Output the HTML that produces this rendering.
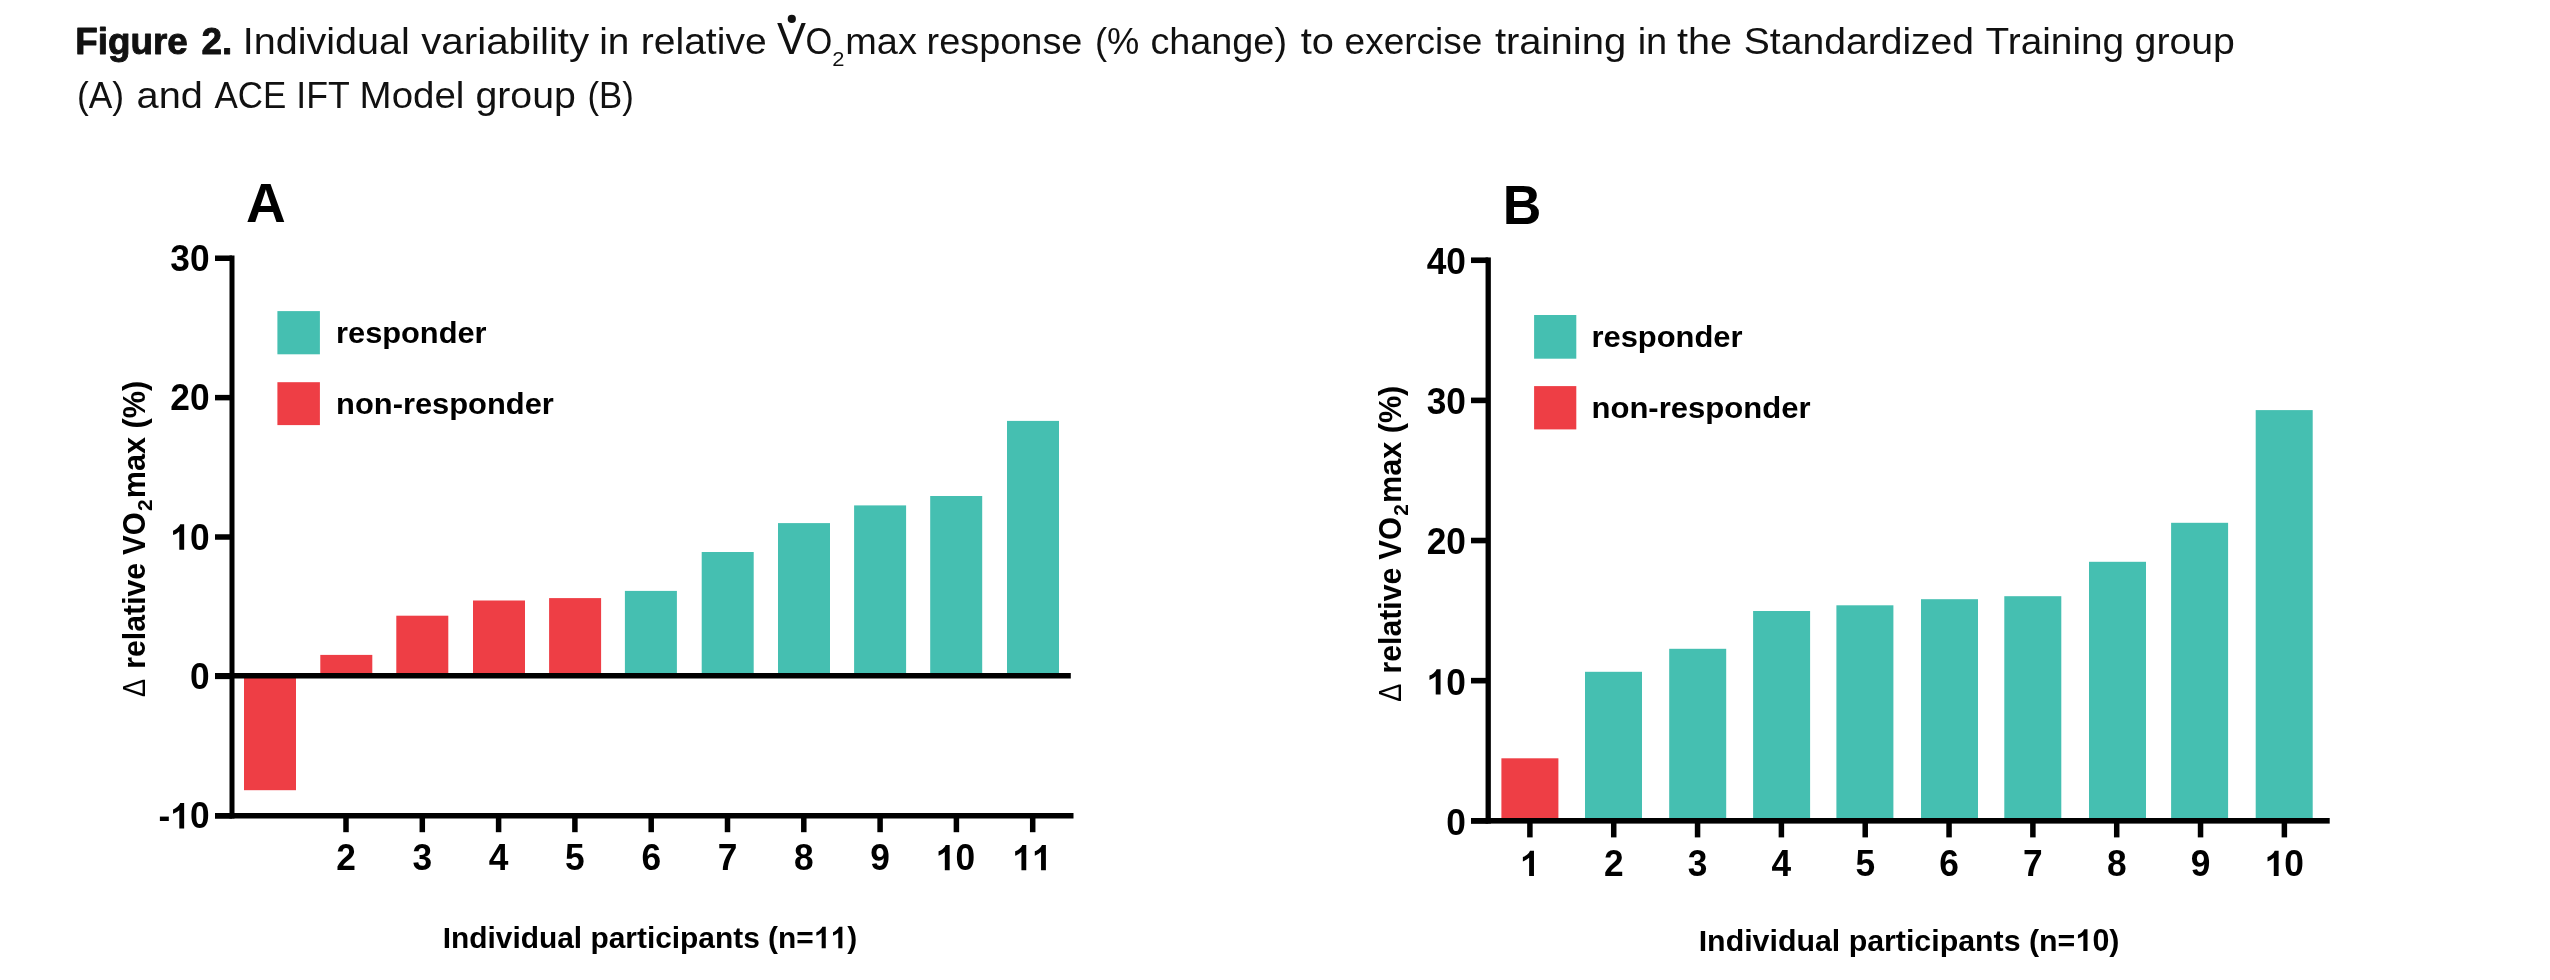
<!DOCTYPE html>
<html><head><meta charset="utf-8"><title>Figure 2</title>
<style>
html,body{margin:0;padding:0;background:#fff;}
body{width:2550px;height:980px;overflow:hidden;font-family:"Liberation Sans",sans-serif;}
svg{display:block;font-family:"Liberation Sans",sans-serif;will-change:transform;}
</style></head><body>
<svg width="2550" height="980" viewBox="0 0 2550 980">
<rect width="2550" height="980" fill="#fff"/>
<text transform="translate(75.34,53.90) scale(0.9818,1.0000)" font-size="37.5" font-weight="bold" fill="#111" stroke="#111" stroke-width="0.9" stroke-linejoin="round">Figure</text>
<text transform="translate(201.42,53.90) scale(0.9836,1.0000)" font-size="37.5" font-weight="bold" fill="#111" stroke="#111" stroke-width="0.9" stroke-linejoin="round">2.</text>
<text transform="translate(242.74,53.90) scale(1.0541,1.0000)" font-size="37.5" font-weight="normal" fill="#111">Individual</text>
<text transform="translate(421.20,53.90) scale(1.0751,1.0000)" font-size="37.5" font-weight="normal" fill="#111">variability</text>
<text transform="translate(599.23,53.90) scale(1.0343,1.0000)" font-size="37.5" font-weight="normal" fill="#111">in</text>
<text transform="translate(640.72,53.90) scale(1.0421,1.0000)" font-size="37.5" font-weight="normal" fill="#111">relative</text>
<text transform="translate(845.28,53.90) scale(1.0102,1.0000)" font-size="37.5" font-weight="normal" fill="#111">max</text>
<text transform="translate(926.58,53.90) scale(1.0105,1.0000)" font-size="37.5" font-weight="normal" fill="#111">response</text>
<text transform="translate(1094.97,53.90) scale(0.9673,1.0000)" font-size="37.5" font-weight="normal" fill="#111">(%</text>
<text transform="translate(1150.39,53.90) scale(1.0081,1.0000)" font-size="37.5" font-weight="normal" fill="#111">change)</text>
<text transform="translate(1300.70,53.90) scale(1.0618,1.0000)" font-size="37.5" font-weight="normal" fill="#111">to</text>
<text transform="translate(1344.61,53.90) scale(0.9871,1.0000)" font-size="37.5" font-weight="normal" fill="#111">exercise</text>
<text transform="translate(1494.90,53.90) scale(1.0682,1.0000)" font-size="37.5" font-weight="normal" fill="#111">training</text>
<text transform="translate(1637.67,53.90) scale(1.0146,1.0000)" font-size="37.5" font-weight="normal" fill="#111">in</text>
<text transform="translate(1676.90,53.90) scale(1.0551,1.0000)" font-size="37.5" font-weight="normal" fill="#111">the</text>
<text transform="translate(1743.76,53.90) scale(1.0425,1.0000)" font-size="37.5" font-weight="normal" fill="#111">Standardized</text>
<text transform="translate(1985.50,53.90) scale(1.0345,1.0000)" font-size="37.5" font-weight="normal" fill="#111">Training</text>
<text transform="translate(2134.55,53.90) scale(1.0473,1.0000)" font-size="37.5" font-weight="normal" fill="#111">group</text>
<text transform="translate(76.91,107.90) scale(0.9441,1.0000)" font-size="37.5" font-weight="normal" fill="#111">(A)</text>
<text transform="translate(136.54,107.90) scale(1.0601,1.0000)" font-size="37.5" font-weight="normal" fill="#111">and</text>
<text transform="translate(214.50,107.90) scale(0.9317,1.0000)" font-size="37.5" font-weight="normal" fill="#111">ACE</text>
<text transform="translate(296.35,107.90) scale(0.9508,1.0000)" font-size="37.5" font-weight="normal" fill="#111">IFT</text>
<text transform="translate(359.62,107.90) scale(1.0258,1.0000)" font-size="37.5" font-weight="normal" fill="#111">Model</text>
<text transform="translate(475.45,107.90) scale(1.0473,1.0000)" font-size="37.5" font-weight="normal" fill="#111">group</text>
<text transform="translate(587.55,107.90) scale(0.9269,1.0000)" font-size="37.5" font-weight="normal" fill="#111">(B)</text>
<text transform="translate(777.00,53.90) scale(0.9966,1.0000)" font-size="43.6" font-weight="normal" fill="#111">V</text>
<text transform="translate(805.48,53.90) scale(0.9185,1.0000)" font-size="37.5" font-weight="normal" fill="#111">O</text>
<text transform="translate(832.33,66.10) scale(1.0700,1.0000)" font-size="20.5" font-weight="normal" fill="#111">2</text>
<circle cx="791.8" cy="18.9" r="4.1" fill="#111"/>
<rect x="244.00" y="675.75" width="52" height="114.45" fill="#EE3E45"/>
<rect x="320.30" y="654.90" width="52" height="20.85" fill="#EE3E45"/>
<rect x="396.30" y="615.70" width="52" height="60.05" fill="#EE3E45"/>
<rect x="473.00" y="600.50" width="52" height="75.25" fill="#EE3E45"/>
<rect x="549.10" y="598.10" width="52" height="77.65" fill="#EE3E45"/>
<rect x="624.90" y="590.90" width="52" height="84.85" fill="#45BFB1"/>
<rect x="701.70" y="552.00" width="52" height="123.75" fill="#45BFB1"/>
<rect x="778.00" y="523.10" width="52" height="152.65" fill="#45BFB1"/>
<rect x="854.10" y="505.40" width="52" height="170.35" fill="#45BFB1"/>
<rect x="930.20" y="496.00" width="52" height="179.75" fill="#45BFB1"/>
<rect x="1007.00" y="420.90" width="52" height="254.85" fill="#45BFB1"/>
<rect x="229.50" y="255.50" width="5.0" height="563.00" fill="#000"/>
<rect x="215.0" y="255.50" width="17.00" height="5.5" fill="#000"/>
<g transform="translate(170.27,270.89) scale(1.0,1.0)" fill="#000"><text transform="translate(0.000,0) scale(1,1.04)" font-size="35.3" font-weight="bold">3</text><text transform="translate(19.630,0) scale(1,1.04)" font-size="35.3" font-weight="bold">0</text></g>
<rect x="215.0" y="394.88" width="17.00" height="5.5" fill="#000"/>
<g transform="translate(170.27,410.26) scale(1.0,1.0)" fill="#000"><text transform="translate(0.000,0) scale(1,1.04)" font-size="35.3" font-weight="bold">2</text><text transform="translate(19.630,0) scale(1,1.04)" font-size="35.3" font-weight="bold">0</text></g>
<rect x="215.0" y="534.25" width="17.00" height="5.5" fill="#000"/>
<g transform="translate(170.27,549.64) scale(1.0,1.0)" fill="#000"><path transform="translate(0.000,0) scale(0.017236,-0.017236)" d="M806 0H525V1059Q371 915 162 846V1101Q272 1137 401 1237.5T578 1472H806Z"/><text transform="translate(19.632,0) scale(1,1.04)" font-size="35.3" font-weight="bold">0</text></g>
<rect x="215.0" y="673.62" width="17.00" height="5.5" fill="#000"/>
<g transform="translate(189.90,689.01) scale(1.0,1.0)" fill="#000"><text transform="translate(0.000,0) scale(1,1.04)" font-size="35.3" font-weight="bold">0</text></g>
<rect x="215.0" y="813.00" width="17.00" height="5.5" fill="#000"/>
<g transform="translate(158.51,828.39) scale(1.0,1.0)" fill="#000"><text transform="translate(0.000,0) scale(1,1.04)" font-size="35.3" font-weight="bold">-</text><path transform="translate(11.754,0) scale(0.017236,-0.017236)" d="M806 0H525V1059Q371 915 162 846V1101Q272 1137 401 1237.5T578 1472H806Z"/><text transform="translate(31.386,0) scale(1,1.04)" font-size="35.3" font-weight="bold">0</text></g>
<rect x="215.0" y="673.00" width="855.80" height="5.5" fill="#000"/>
<rect x="215.0" y="813.00" width="858.50" height="5.5" fill="#000"/>
<rect x="343.25" y="815.75" width="5.5" height="16.45" fill="#000"/>
<g transform="translate(336.18,870.30) scale(1.0,1.0)" fill="#000"><text transform="translate(0.000,0) scale(1,1.04)" font-size="35.3" font-weight="bold">2</text></g>
<rect x="419.55" y="815.75" width="5.5" height="16.45" fill="#000"/>
<g transform="translate(412.48,870.30) scale(1.0,1.0)" fill="#000"><text transform="translate(0.000,0) scale(1,1.04)" font-size="35.3" font-weight="bold">3</text></g>
<rect x="495.85" y="815.75" width="5.5" height="16.45" fill="#000"/>
<g transform="translate(488.78,870.30) scale(1.0,1.0)" fill="#000"><text transform="translate(0.000,0) scale(1,1.04)" font-size="35.3" font-weight="bold">4</text></g>
<rect x="572.15" y="815.75" width="5.5" height="16.45" fill="#000"/>
<g transform="translate(565.08,870.30) scale(1.0,1.0)" fill="#000"><text transform="translate(0.000,0) scale(1,1.04)" font-size="35.3" font-weight="bold">5</text></g>
<rect x="648.45" y="815.75" width="5.5" height="16.45" fill="#000"/>
<g transform="translate(641.38,870.30) scale(1.0,1.0)" fill="#000"><text transform="translate(0.000,0) scale(1,1.04)" font-size="35.3" font-weight="bold">6</text></g>
<rect x="724.75" y="815.75" width="5.5" height="16.45" fill="#000"/>
<g transform="translate(717.68,870.30) scale(1.0,1.0)" fill="#000"><text transform="translate(0.000,0) scale(1,1.04)" font-size="35.3" font-weight="bold">7</text></g>
<rect x="801.05" y="815.75" width="5.5" height="16.45" fill="#000"/>
<g transform="translate(793.98,870.30) scale(1.0,1.0)" fill="#000"><text transform="translate(0.000,0) scale(1,1.04)" font-size="35.3" font-weight="bold">8</text></g>
<rect x="877.35" y="815.75" width="5.5" height="16.45" fill="#000"/>
<g transform="translate(870.28,870.30) scale(1.0,1.0)" fill="#000"><text transform="translate(0.000,0) scale(1,1.04)" font-size="35.3" font-weight="bold">9</text></g>
<rect x="953.65" y="815.75" width="5.5" height="16.45" fill="#000"/>
<g transform="translate(935.77,870.30) scale(1.0,1.0)" fill="#000"><path transform="translate(0.000,0) scale(0.017236,-0.017236)" d="M806 0H525V1059Q371 915 162 846V1101Q272 1137 401 1237.5T578 1472H806Z"/><text transform="translate(19.632,0) scale(1,1.04)" font-size="35.3" font-weight="bold">0</text></g>
<rect x="1029.95" y="815.75" width="5.5" height="16.45" fill="#000"/>
<g transform="translate(1012.37,870.30) scale(1.0,1.0)" fill="#000"><path transform="translate(0.000,0) scale(0.017236,-0.017236)" d="M806 0H525V1059Q371 915 162 846V1101Q272 1137 401 1237.5T578 1472H806Z"/><path transform="translate(19.632,0) scale(0.017236,-0.017236)" d="M806 0H525V1059Q371 915 162 846V1101Q272 1137 401 1237.5T578 1472H806Z"/></g>
<g transform="translate(442.71,948.2) scale(0.9966)" fill="#000" font-size="30.0" font-weight="bold"><text x="0" y="0">Individual participants (n=</text><g transform="translate(372.554,0)"><path transform="translate(0.000,0) scale(0.014648,-0.014648)" d="M806 0H525V1059Q371 915 162 846V1101Q272 1137 401 1237.5T578 1472H806Z"/><path transform="translate(16.685,0) scale(0.014648,-0.014648)" d="M806 0H525V1059Q371 915 162 846V1101Q272 1137 401 1237.5T578 1472H806Z"/></g><text x="405.923" y="0">)</text></g>
<text transform="translate(145.10,696.90) rotate(-90) scale(0.8800,1)" font-size="30.8" font-weight="normal" fill="#000">Δ</text>
<text transform="translate(145.20,668.78) rotate(-90) scale(0.9891,1)" font-size="30.6" font-weight="bold" fill="#000">relative</text>
<text transform="translate(145.20,554.90) rotate(-90) scale(0.9630,1)" font-size="30.6" font-weight="bold" fill="#000">VO</text>
<text transform="translate(152.20,511.00) rotate(-90) scale(1.0000,1)" font-size="21" font-weight="bold" fill="#000">2</text>
<text transform="translate(145.20,498.30) rotate(-90) scale(1.0007,1)" font-size="30.6" font-weight="bold" fill="#000">max (%)</text>
<text transform="translate(246.06,221.50) scale(1.0389,1.0420)" font-size="53" font-weight="bold" fill="#000">A</text>
<rect x="277.4" y="311.1" width="42.5" height="43.2" fill="#45BFB1"/>
<rect x="277.4" y="382.20000000000005" width="42.5" height="42.9" fill="#EE3E45"/>
<text transform="translate(336.07,342.70) scale(1.0293,1.0000)" font-size="29.9" font-weight="bold" fill="#000">responder</text>
<text transform="translate(336.07,414.00) scale(1.0330,1.0000)" font-size="29.9" font-weight="bold" fill="#000">non-responder</text>
<rect x="1501.40" y="758.30" width="57" height="62.50" fill="#EE3E45"/>
<rect x="1585.00" y="671.80" width="57" height="149.00" fill="#45BFB1"/>
<rect x="1669.20" y="648.80" width="57" height="172.00" fill="#45BFB1"/>
<rect x="1753.10" y="611.00" width="57" height="209.80" fill="#45BFB1"/>
<rect x="1836.40" y="605.30" width="57" height="215.50" fill="#45BFB1"/>
<rect x="1921.00" y="599.20" width="57" height="221.60" fill="#45BFB1"/>
<rect x="2004.30" y="596.20" width="57" height="224.60" fill="#45BFB1"/>
<rect x="2089.00" y="561.80" width="57" height="259.00" fill="#45BFB1"/>
<rect x="2171.10" y="522.80" width="57" height="298.00" fill="#45BFB1"/>
<rect x="2255.70" y="410.10" width="57" height="410.70" fill="#45BFB1"/>
<rect x="1485.55" y="257.45" width="5.3" height="566.15" fill="#000"/>
<rect x="1471.0" y="257.45" width="17.20" height="5.6" fill="#000"/>
<g transform="translate(1426.67,274.19) scale(1.0,1.0)" fill="#000"><text transform="translate(0.000,0) scale(1,1.04)" font-size="35.3" font-weight="bold">4</text><text transform="translate(19.630,0) scale(1,1.04)" font-size="35.3" font-weight="bold">0</text></g>
<rect x="1471.0" y="397.59" width="17.20" height="5.6" fill="#000"/>
<g transform="translate(1426.67,414.32) scale(1.0,1.0)" fill="#000"><text transform="translate(0.000,0) scale(1,1.04)" font-size="35.3" font-weight="bold">3</text><text transform="translate(19.630,0) scale(1,1.04)" font-size="35.3" font-weight="bold">0</text></g>
<rect x="1471.0" y="537.73" width="17.20" height="5.6" fill="#000"/>
<g transform="translate(1426.67,554.46) scale(1.0,1.0)" fill="#000"><text transform="translate(0.000,0) scale(1,1.04)" font-size="35.3" font-weight="bold">2</text><text transform="translate(19.630,0) scale(1,1.04)" font-size="35.3" font-weight="bold">0</text></g>
<rect x="1471.0" y="677.86" width="17.20" height="5.6" fill="#000"/>
<g transform="translate(1426.67,694.60) scale(1.0,1.0)" fill="#000"><path transform="translate(0.000,0) scale(0.017236,-0.017236)" d="M806 0H525V1059Q371 915 162 846V1101Q272 1137 401 1237.5T578 1472H806Z"/><text transform="translate(19.632,0) scale(1,1.04)" font-size="35.3" font-weight="bold">0</text></g>
<rect x="1471.0" y="818.00" width="17.20" height="5.6" fill="#000"/>
<g transform="translate(1446.30,834.74) scale(1.0,1.0)" fill="#000"><text transform="translate(0.000,0) scale(1,1.04)" font-size="35.3" font-weight="bold">0</text></g>
<rect x="1471.0" y="818.00" width="858.70" height="5.6" fill="#000"/>
<rect x="1527.15" y="820.80" width="5.5" height="16.60" fill="#000"/>
<g transform="translate(1520.08,876.00) scale(1.0,1.0)" fill="#000"><path transform="translate(0.000,0) scale(0.017236,-0.017236)" d="M806 0H525V1059Q371 915 162 846V1101Q272 1137 401 1237.5T578 1472H806Z"/></g>
<rect x="1610.98" y="820.80" width="5.5" height="16.60" fill="#000"/>
<g transform="translate(1603.91,876.00) scale(1.0,1.0)" fill="#000"><text transform="translate(0.000,0) scale(1,1.04)" font-size="35.3" font-weight="bold">2</text></g>
<rect x="1694.81" y="820.80" width="5.5" height="16.60" fill="#000"/>
<g transform="translate(1687.74,876.00) scale(1.0,1.0)" fill="#000"><text transform="translate(0.000,0) scale(1,1.04)" font-size="35.3" font-weight="bold">3</text></g>
<rect x="1778.64" y="820.80" width="5.5" height="16.60" fill="#000"/>
<g transform="translate(1771.57,876.00) scale(1.0,1.0)" fill="#000"><text transform="translate(0.000,0) scale(1,1.04)" font-size="35.3" font-weight="bold">4</text></g>
<rect x="1862.47" y="820.80" width="5.5" height="16.60" fill="#000"/>
<g transform="translate(1855.40,876.00) scale(1.0,1.0)" fill="#000"><text transform="translate(0.000,0) scale(1,1.04)" font-size="35.3" font-weight="bold">5</text></g>
<rect x="1946.30" y="820.80" width="5.5" height="16.60" fill="#000"/>
<g transform="translate(1939.23,876.00) scale(1.0,1.0)" fill="#000"><text transform="translate(0.000,0) scale(1,1.04)" font-size="35.3" font-weight="bold">6</text></g>
<rect x="2030.13" y="820.80" width="5.5" height="16.60" fill="#000"/>
<g transform="translate(2023.06,876.00) scale(1.0,1.0)" fill="#000"><text transform="translate(0.000,0) scale(1,1.04)" font-size="35.3" font-weight="bold">7</text></g>
<rect x="2113.96" y="820.80" width="5.5" height="16.60" fill="#000"/>
<g transform="translate(2106.89,876.00) scale(1.0,1.0)" fill="#000"><text transform="translate(0.000,0) scale(1,1.04)" font-size="35.3" font-weight="bold">8</text></g>
<rect x="2197.79" y="820.80" width="5.5" height="16.60" fill="#000"/>
<g transform="translate(2190.72,876.00) scale(1.0,1.0)" fill="#000"><text transform="translate(0.000,0) scale(1,1.04)" font-size="35.3" font-weight="bold">9</text></g>
<rect x="2281.62" y="820.80" width="5.5" height="16.60" fill="#000"/>
<g transform="translate(2264.74,876.00) scale(1.0,1.0)" fill="#000"><path transform="translate(0.000,0) scale(0.017236,-0.017236)" d="M806 0H525V1059Q371 915 162 846V1101Q272 1137 401 1237.5T578 1472H806Z"/><text transform="translate(19.632,0) scale(1,1.04)" font-size="35.3" font-weight="bold">0</text></g>
<g transform="translate(1698.68,951.1) scale(1.0116)" fill="#000" font-size="30.0" font-weight="bold"><text x="0" y="0">Individual participants (n=</text><g transform="translate(372.554,0)"><path transform="translate(0.000,0) scale(0.014648,-0.014648)" d="M806 0H525V1059Q371 915 162 846V1101Q272 1137 401 1237.5T578 1472H806Z"/><text transform="translate(16.685,0) scale(1,1.04)" font-size="30.0" font-weight="bold">0</text></g><text x="405.923" y="0">)</text></g>
<text transform="translate(1401.00,701.70) rotate(-90) scale(0.8800,1)" font-size="30.8" font-weight="normal" fill="#000">Δ</text>
<text transform="translate(1401.10,673.58) rotate(-90) scale(0.9891,1)" font-size="30.6" font-weight="bold" fill="#000">relative</text>
<text transform="translate(1401.10,559.70) rotate(-90) scale(0.9630,1)" font-size="30.6" font-weight="bold" fill="#000">VO</text>
<text transform="translate(1408.10,515.80) rotate(-90) scale(1.0000,1)" font-size="21" font-weight="bold" fill="#000">2</text>
<text transform="translate(1401.10,503.10) rotate(-90) scale(1.0007,1)" font-size="30.6" font-weight="bold" fill="#000">max (%)</text>
<text transform="translate(1502.67,224.30) scale(1.0091,1.0420)" font-size="53" font-weight="bold" fill="#000">B</text>
<rect x="1534.1" y="315.0" width="42.2" height="43.7" fill="#45BFB1"/>
<rect x="1534.1" y="386.1" width="42.2" height="43.3" fill="#EE3E45"/>
<text transform="translate(1591.47,346.50) scale(1.0334,1.0000)" font-size="29.9" font-weight="bold" fill="#000">responder</text>
<text transform="translate(1591.46,417.60) scale(1.0387,1.0000)" font-size="29.9" font-weight="bold" fill="#000">non-responder</text>
</svg>
</body></html>
